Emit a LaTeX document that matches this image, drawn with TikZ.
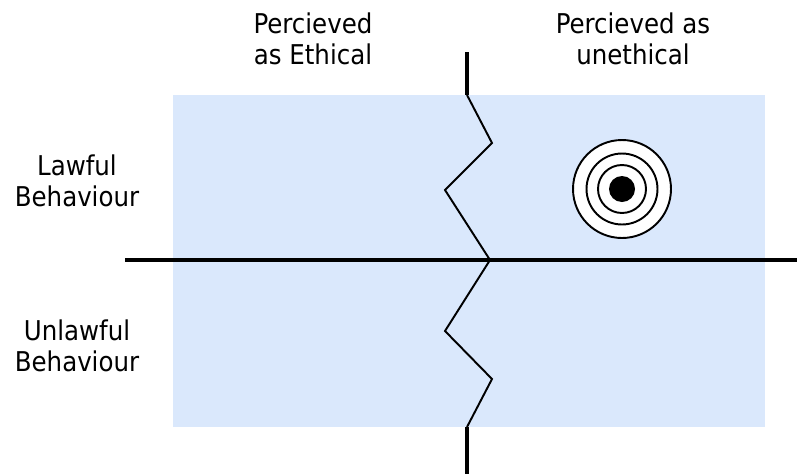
\documentclass[tikz,border=0pt]{standalone}
\usepackage{fontspec}
\setmainfont{DejaVu Sans Condensed}
\usetikzlibrary{positioning}
\definecolor{quadblue}{HTML}{DAE8FC}

\begin{document}
\begin{tikzpicture}[x=0.02cm, y=-0.02cm,
  lbl/.style={align=center, font=\fontsize{15.5}{17.9}\selectfont},
  axisline/.style={line width=2.2pt},
  ring/.style={draw, circle, line width=1.1pt, fill=white, inner sep=0pt}]
\useasboundingbox (0,0) rectangle (797,474);

% Quadrant area
\fill [quadblue] (173,95) rectangle (765,427);

% Headings
\node (ethical) at (313,39) [lbl] {Percieved\\as Ethical};
\node (unethical) at (633,39) [lbl] {Percieved as\\unethical};
\node (lawful) at (77,181) [lbl] {Lawful\\Behaviour};
\node (unlawful) at (77,346) [lbl] {Unlawful\\Behaviour};

% Axes
\coordinate (hleft) at (125,260);
\coordinate (hright) at (797,260);
\coordinate (vtop) at (467,52);
\coordinate (vbot) at (467,474);
\coordinate (z0) at (467,95);
\coordinate (z1) at (492,143);
\coordinate (z2) at (445,190);
\coordinate (z3) at (490,260);
\coordinate (z4) at (445,331);
\coordinate (z5) at (492,379);
\coordinate (z6) at (467,427);

\draw [axisline] (vtop) -- (z0);
\draw [axisline] (z6) -- (vbot);
\draw [line width=1.1pt, line join=miter] (z0) -- (z1) -- (z2) -- (z3) -- (z4) -- (z5) -- (z6);
\draw [axisline] (hleft) -- (hright);

% Target
\node (outer) at (622,189) [ring, minimum size=1.96cm] {};
\node (middle) at (outer.center) [ring, minimum size=1.42cm] {};
\node (inner) at (outer.center) [ring, minimum size=0.96cm] {};
\node (bull) at (outer.center) [circle, fill=black, inner sep=0pt, minimum size=0.52cm] {};
\end{tikzpicture}
\end{document}
